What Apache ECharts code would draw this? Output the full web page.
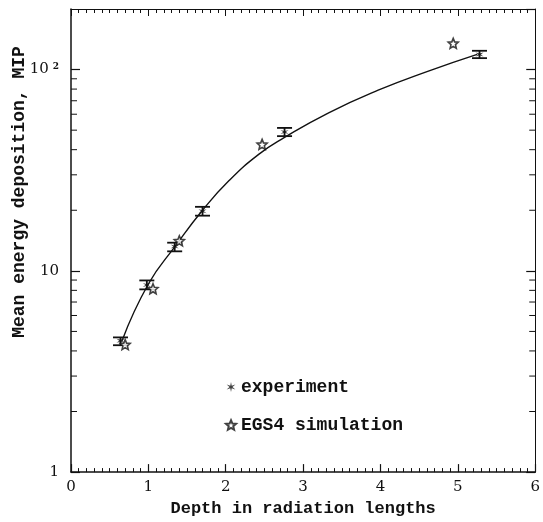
<!DOCTYPE html>
<html>
<head>
<meta charset="utf-8">
<script src="https://cdn.jsdelivr.net/npm/echarts@6/dist/echarts.min.js"></script>
<style>html,body{margin:0;padding:0;background:#fff}#c{width:543px;height:522px}</style>
</head>
<body>
<div id="c"></div>
<script>
// Experiment (points with error bars)
const expX  = [0.64, 0.98, 1.34, 1.70, 2.76, 5.28];
const expY  = [4.5, 8.5, 13.2, 19.8, 49, 119];
const expLo = [4.27, 8.09, 12.5, 18.8, 46.7, 114];
const expHi = [4.67, 8.96, 13.8, 20.8, 51.3, 124];
// EGS4 simulation (open stars)
const simX = [0.70, 1.06, 1.40, 2.47, 4.94];
const simY = [4.3, 8.15, 14.1, 42.5, 135];
// Fitted curve
const fitX = [0.66, 1.0, 1.35, 1.7, 2.04, 2.43, 2.76, 3.33, 3.97, 4.61, 5.25];
const fitY = [4.5, 8.6, 13.3, 20, 28, 38, 46, 61, 79, 98, 119];
// Log-axis minor tick values
const yMinor = [2,3,4,5,6,7,8,9,20,30,40,50,60,70,80,90];
const xTicks = [0,1,2,3,4,5,6];

const INK = '#111';
const MONO = '"Liberation Mono", "DejaVu Sans Mono", monospace';
const SERIF = '"DejaVu Serif", "Liberation Serif", serif';
const ASTER = 'path://M10 0 L11.5 7.4 L18.66 5 L13 10 L18.66 15 L11.5 12.6 L10 20 L8.5 12.6 L1.34 15 L7 10 L1.34 5 L8.5 7.4 Z';
const STAR = 'path://M10 0 L12.65 6.36 L19.51 6.91 L14.28 11.39 L15.88 18.09 L10 14.5 L4.12 18.09 L5.72 11.39 L0.49 6.91 L7.35 6.36 Z';

const chart = echarts.init(document.getElementById('c'), null, {renderer: 'canvas'});

function yLabel(v) {
  const e = Math.log10(v);
  if (Math.abs(e - Math.round(e)) > 1e-6) return '';
  const r = Math.round(e);
  if (r === 0) return '1';
  if (r === 1) return '10';
  if (r === 2) return '{b|10}{s|2}';
  return '';
}

const option = {
  backgroundColor: '#fff',
  animation: false,
  grid: {left: 71, right: 5, top: 9, bottom: 43, show: false},
  legend: {
    orient: 'vertical', left: 220, top: 372, itemGap: 18,
    itemWidth: 10, itemHeight: 10,
    textStyle: {fontFamily: MONO, fontWeight: 'bold', fontSize: 18, color: INK, lineHeight: 20},
    data: [
      {name: 'experiment', icon: ASTER},
      {name: 'EGS4 simulation', icon: STAR}
    ]
  },
  graphic: [{
    type: 'text', x: 19, y: 192, rotation: Math.PI / 2,
    style: {text: 'Mean energy deposition, MIP', fontFamily: MONO, fontWeight: 'bold', fontSize: 18,
            fill: INK, align: 'center', verticalAlign: 'middle'}
  }],
  xAxis: [{
    type: 'value', min: xTicks[0], max: xTicks[xTicks.length - 1], interval: 1,
    position: 'bottom',
    name: 'Depth in radiation lengths', nameLocation: 'middle', nameGap: 26,
    nameTextStyle: {fontFamily: MONO, fontWeight: 'bold', fontSize: 17, color: INK},
    axisLine: {show: true, onZero: false, lineStyle: {color: INK, width: 1.5}},
    axisTick: {show: true, inside: true, length: 8, lineStyle: {color: INK, width: 1.2}},
    minorTick: {show: true, splitNumber: 10, length: 4, lineStyle: {color: INK, width: 1}},
    axisLabel: {fontFamily: SERIF, fontSize: 15, color: INK, margin: 8},
    splitLine: {show: false}, minorSplitLine: {show: false}
  }, {
    type: 'value', min: xTicks[0], max: xTicks[xTicks.length - 1], interval: 1,
    position: 'top',
    axisLine: {show: true, onZero: false, lineStyle: {color: INK, width: 1.2}},
    axisTick: {show: true, inside: true, length: 7, lineStyle: {color: INK, width: 1}},
    minorTick: {show: true, splitNumber: 10, length: 4, lineStyle: {color: INK, width: 1}},
    axisLabel: {show: false},
    splitLine: {show: false}, minorSplitLine: {show: false}
  }],
  yAxis: [{
    type: 'log', logBase: 10, min: 1, max: 200, position: 'left',
    axisLine: {show: true, onZero: false, lineStyle: {color: INK, width: 1.5}},
    axisTick: {show: true, inside: true, length: 9, lineStyle: {color: INK, width: 1.2}},
    axisLabel: {
      formatter: yLabel, margin: 12, showMaxLabel: false,
      fontFamily: SERIF, fontSize: 15, color: INK,
      rich: {
        b: {fontFamily: SERIF, fontSize: 15, color: INK},
        s: {fontFamily: SERIF, fontSize: 9, color: INK, fontWeight: 'bold', verticalAlign: 'top', padding: [0, 0, 6, 4]}
      }
    },
    splitLine: {show: false}
  }, {
    type: 'log', logBase: 10, min: 1, max: 200, position: 'right',
    axisLine: {show: true, onZero: false, lineStyle: {color: INK, width: 1}},
    axisTick: {show: true, inside: true, length: 9, lineStyle: {color: INK, width: 1.2}},
    axisLabel: {show: false},
    splitLine: {show: false}
  }],
  series: [
    {
      type: 'custom', silent: true, z: 1,
      data: yMinor.map(v => [0, v]),
      encode: {x: 0, y: 1},
      clip: false,
      renderItem: function (params, api) {
        const cs = params.coordSys;
        const y = api.coord([0, api.value(1)])[1];
        const L = cs.x, R = cs.x + cs.width;
        return {type: 'group', children: [
          {type: 'line', shape: {x1: L, y1: y, x2: L + 6, y2: y}, style: {stroke: INK, lineWidth: 1}},
          {type: 'line', shape: {x1: R - 6, y1: y, x2: R, y2: y}, style: {stroke: INK, lineWidth: 1}}
        ]};
      }
    },
    {
      type: 'line', smooth: 0.5, showSymbol: false, symbol: 'none', silent: true, z: 2,
      data: fitX.map((x, i) => [x, fitY[i]]),
      lineStyle: {color: INK, width: 1.4}
    },
    {
      type: 'custom', silent: true, z: 3,
      data: expX.map((x, i) => [x, expLo[i], expHi[i]]),
      encode: {x: 0, y: [1, 2]},
      renderItem: function (params, api) {
        const x = api.value(0);
        const pHi = api.coord([x, api.value(2)]);
        const pLo = api.coord([x, api.value(1)]);
        const hw = 7.5;
        const st = {stroke: INK, lineWidth: 1.8};
        return {type: 'group', children: [
          {type: 'line', shape: {x1: pHi[0], y1: pHi[1], x2: pLo[0], y2: pLo[1]}, style: st},
          {type: 'line', shape: {x1: pHi[0] - hw, y1: pHi[1], x2: pHi[0] + hw, y2: pHi[1]}, style: st},
          {type: 'line', shape: {x1: pLo[0] - hw, y1: pLo[1], x2: pLo[0] + hw, y2: pLo[1]}, style: st}
        ]};
      }
    },
    {
      name: 'experiment', type: 'scatter', symbol: ASTER, symbolSize: 8, z: 4,
      data: expX.map((x, i) => [x, expY[i]]),
      itemStyle: {color: INK}
    },
    {
      name: 'EGS4 simulation', type: 'scatter', symbol: STAR, symbolSize: 10, z: 5,
      data: simX.map((x, i) => [x, simY[i]]),
      itemStyle: {color: '#fff', borderColor: INK, borderWidth: 1.6}
    }
  ]
};
chart.setOption(option);
</script>
</body>
</html>
